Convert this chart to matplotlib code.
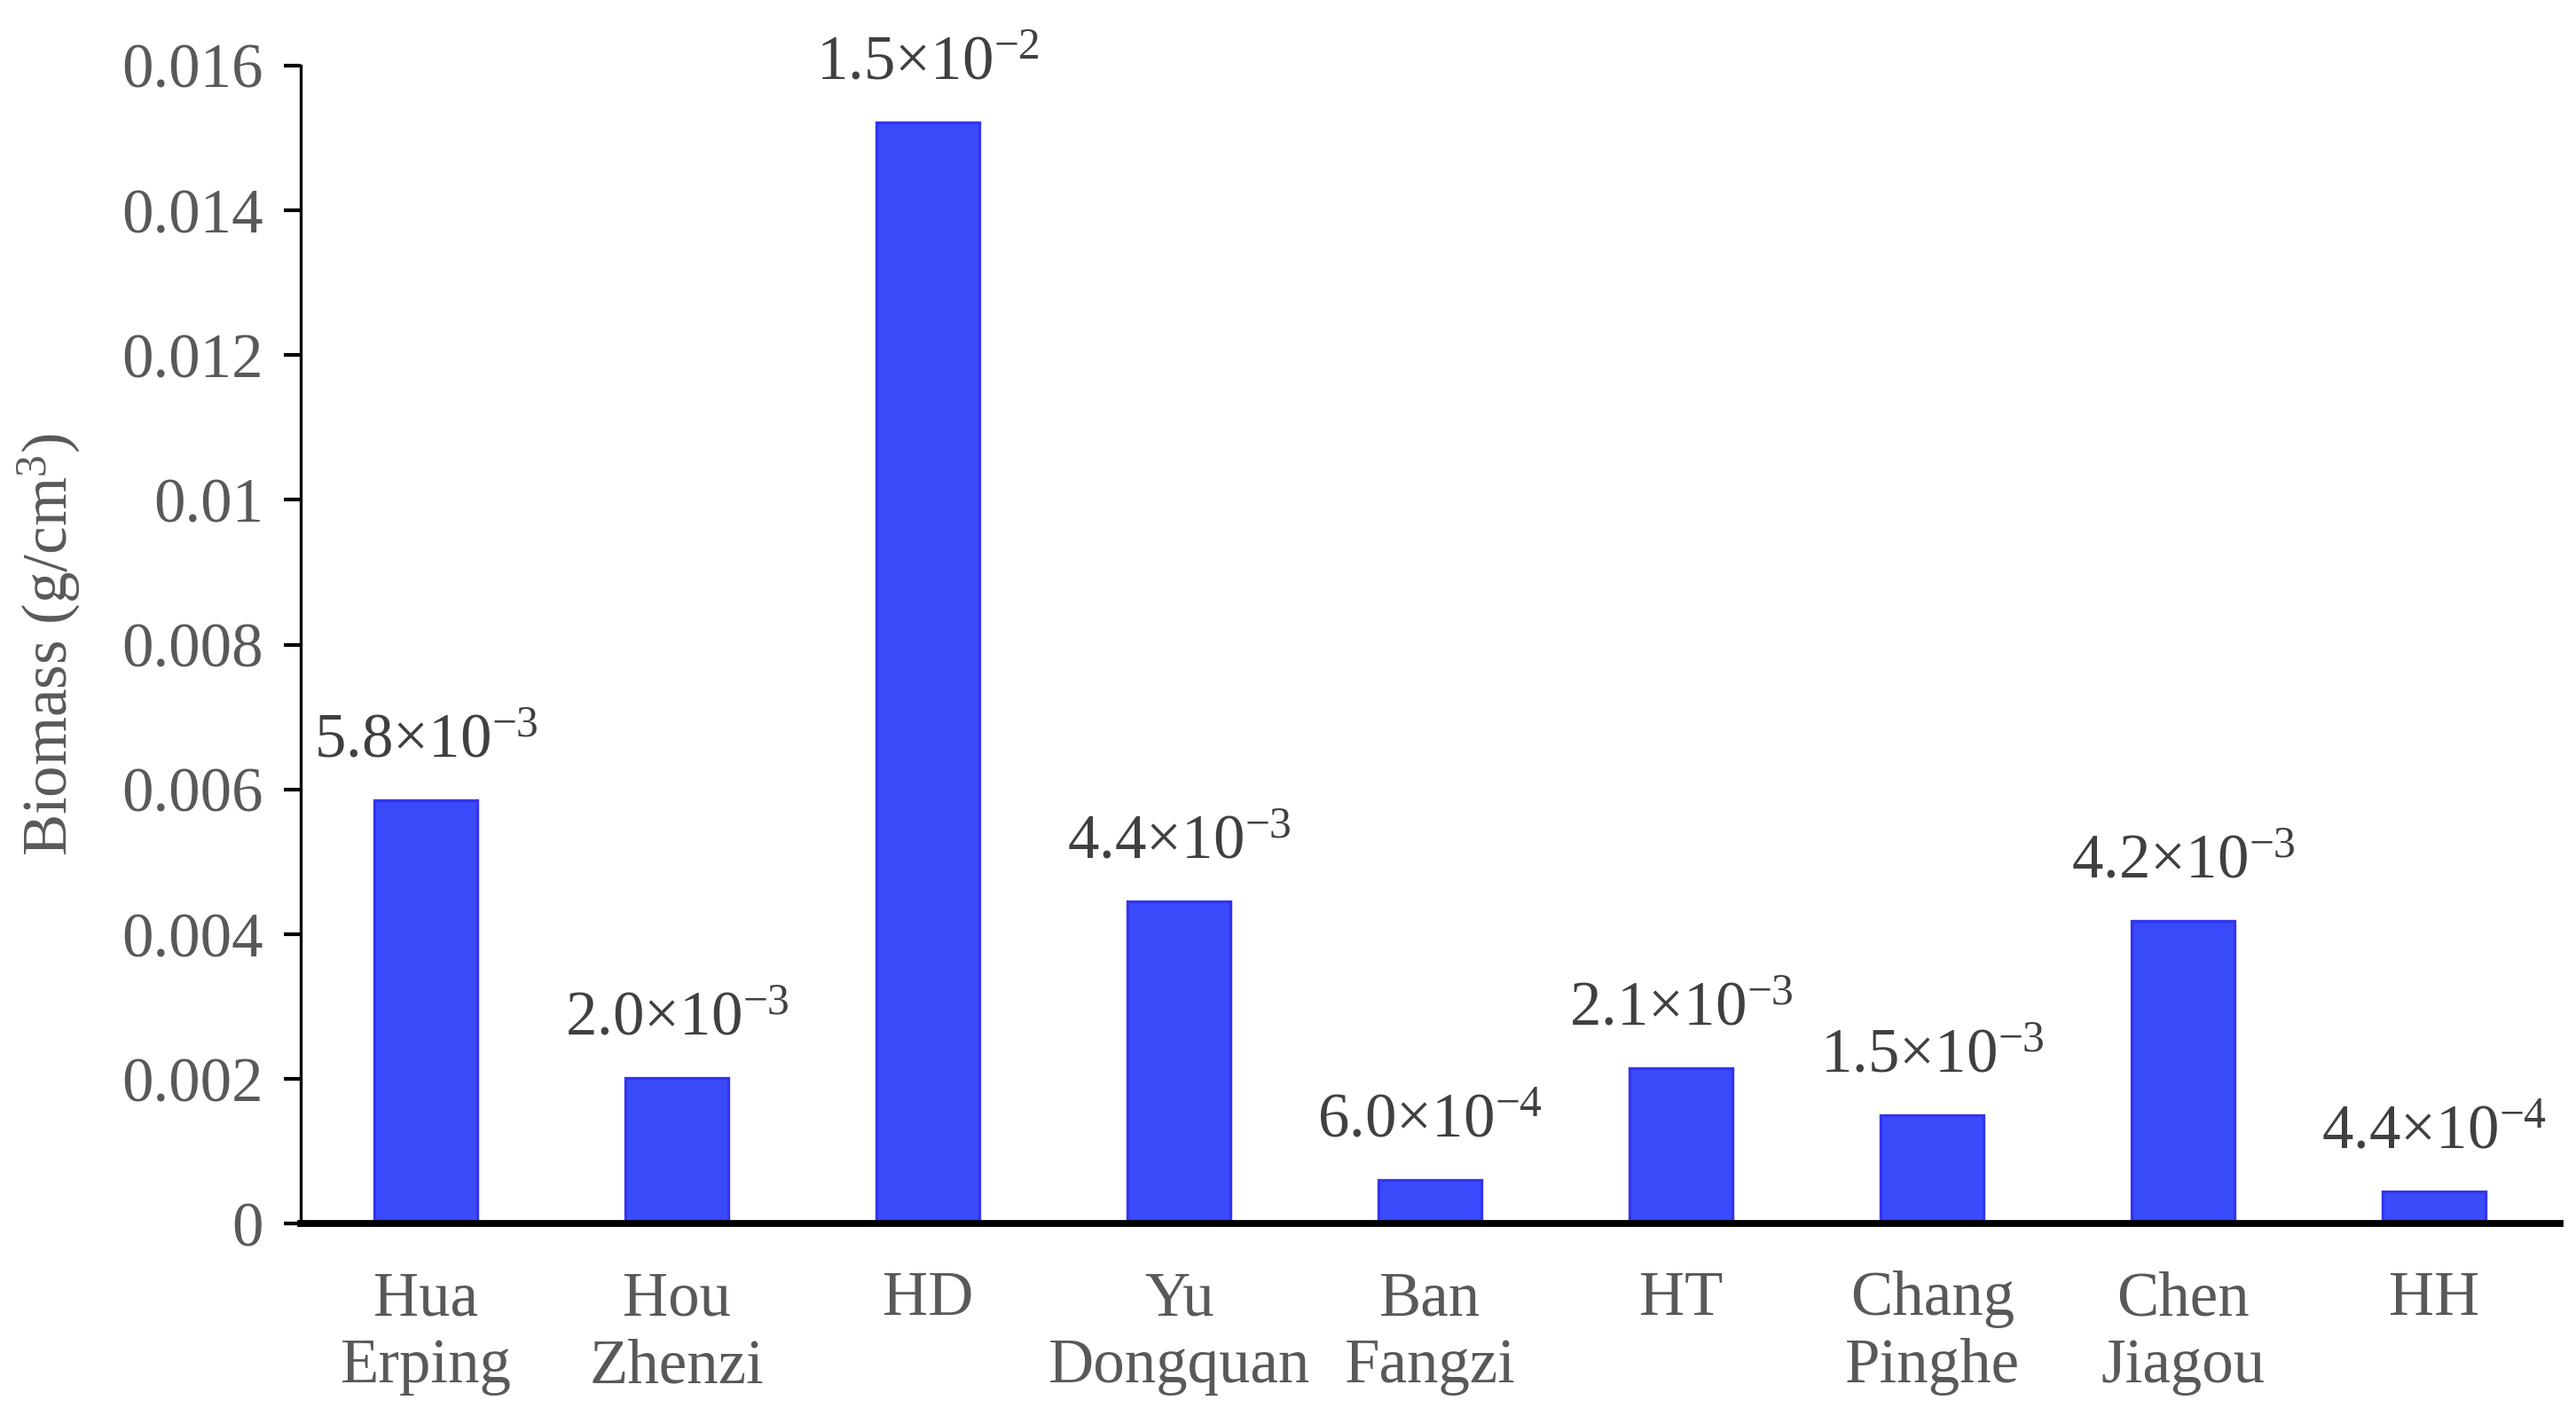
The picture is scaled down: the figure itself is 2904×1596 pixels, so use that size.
import numpy as np
import matplotlib
matplotlib.use("Agg")
import matplotlib.pyplot as plt

plt.rcParams['font.family'] = ['Liberation Serif', 'DejaVu Serif']
plt.rcParams['mathtext.fontset'] = 'custom'
plt.rcParams['mathtext.rm'] = 'Liberation Serif'
plt.rcParams['mathtext.it'] = 'Liberation Serif:italic'

sites = ["Hua\nErping", "Hou\nZhenzi", "HD", "Yu\nDongquan", "Ban\nFangzi",
         "HT", "Chang\nPinghe", "Chen\nJiagou", "HH"]
biomass = [0.00585, 0.00202, 0.01522, 0.00446, 0.00061,
           0.00215, 0.00150, 0.00419, 0.00045]
labels = [r"5.8×10$^{−3}$", r"2.0×10$^{−3}$", r"1.5×10$^{−2}$", r"4.4×10$^{−3}$",
          r"6.0×10$^{−4}$", r"2.1×10$^{−3}$", r"1.5×10$^{−3}$", r"4.2×10$^{−3}$",
          r"4.4×10$^{−4}$"]
yticks = [0, 0.002, 0.004, 0.006, 0.008, 0.01, 0.012, 0.014, 0.016]
ytick_labels = ["0", "0.002", "0.004", "0.006", "0.008", "0.01", "0.012", "0.014", "0.016"]

grey = "#595959"
fs = 25.5

fig = plt.figure(figsize=(14.52, 7.98), dpi=200)
ax = fig.add_axes([0.1167, 0.1357, 0.877, 0.818])

x = np.arange(len(sites))
bars = ax.bar(x, biomass, width=0.41, color="#3a4bfc", edgecolor="#3434f0", linewidth=1.2, zorder=2)

for b, lab in zip(bars, labels):
    ax.annotate(lab, (b.get_x() + b.get_width() / 2, b.get_height()),
                xytext=(0, 12), textcoords="offset points",
                ha="center", va="bottom", fontsize=fs, color="#404040")

ax.set_xlim(-0.5, len(sites) - 0.5)
ax.set_ylim(0, 0.016)
ax.set_yticks(yticks)
ax.set_yticklabels(ytick_labels, fontsize=fs, color=grey)
ax.set_xticks(x)
ax.set_xticklabels(sites, fontsize=fs, color=grey, linespacing=1.22)
ax.tick_params(axis="x", length=0, pad=19)
ax.tick_params(axis="y", length=7, width=1.5, direction="out", pad=8)

ax.spines["top"].set_visible(False)
ax.spines["right"].set_visible(False)
ax.spines["left"].set_linewidth(1.2)
ax.spines["bottom"].set_linewidth(2.8)
ax.spines["bottom"].set_zorder(3)

ax.set_ylabel(r"Biomass (g/cm$^{3}$)", fontsize=fs, color=grey, labelpad=16)

fig.savefig("out.png", dpi=200)
